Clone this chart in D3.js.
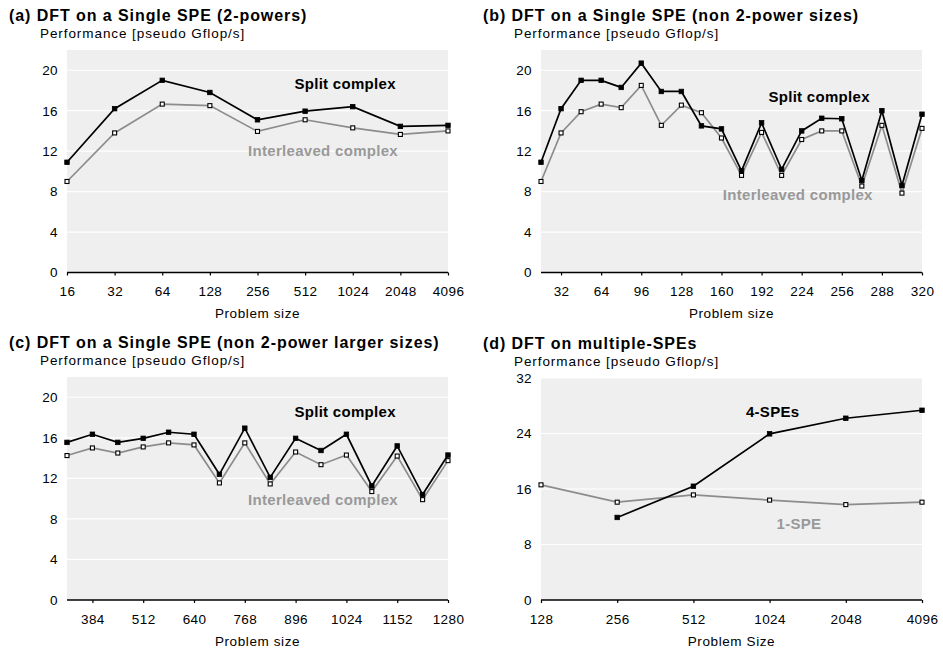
<!DOCTYPE html>
<html>
<head>
<meta charset="utf-8">
<script src="https://cdn.jsdelivr.net/npm/d3@7"></script>
<style>
  body { margin: 0; background: #fff; }
  text { font-family: "Liberation Sans", Arial, sans-serif; }
</style>
</head>
<body>
<div id="chart"></div>
<script>
// (a) powers of two
var sizesA = [16, 32, 64, 128, 256, 512, 1024, 2048, 4096];
var splitA = [10.9, 16.2, 19.0, 17.8, 15.1, 15.95, 16.4, 14.45, 14.55];
var interA = [9.0, 13.8, 16.65, 16.5, 13.95, 15.1, 14.3, 13.65, 14.0];

// (b) non 2-power sizes
var sizesB = [16, 32, 48, 64, 80, 96, 112, 128, 144, 160, 176, 192, 208, 224, 240, 256, 272, 288, 304, 320];
var splitB = [10.9, 16.2, 19.0, 19.0, 18.3, 20.7, 17.9, 17.9, 14.5, 14.2, 10.05, 14.8, 10.2, 14.0, 15.25, 15.2, 9.1, 16.0, 8.6, 15.65];
var interB = [9.0, 13.8, 15.9, 16.65, 16.3, 18.5, 14.55, 16.55, 15.8, 13.3, 9.6, 13.85, 9.6, 13.15, 14.0, 14.0, 8.55, 14.55, 7.85, 14.25];
var ticksB = [32, 64, 96, 128, 160, 192, 224, 256, 288, 320];

// (c) non 2-power larger sizes
var sizesC = [320, 384, 448, 512, 576, 640, 704, 768, 832, 896, 960, 1024, 1088, 1152, 1216, 1280];
var splitC = [15.55, 16.35, 15.55, 15.95, 16.55, 16.35, 12.4, 16.95, 12.1, 15.95, 14.75, 16.35, 11.25, 15.2, 10.4, 14.3];
var interC = [14.25, 15.0, 14.5, 15.1, 15.5, 15.3, 11.55, 15.5, 11.45, 14.6, 13.35, 14.3, 10.7, 14.2, 9.9, 13.75];
var ticksC = [384, 512, 640, 768, 896, 1024, 1152, 1280];

// (d) multiple SPEs
var sizesD = [128, 256, 512, 1024, 2048, 4096];
var fourSPE = [null, 11.9, 16.4, 23.95, 26.2, 27.35];
var oneSPE = [16.6, 14.1, 15.15, 14.4, 13.75, 14.1];

var yTicks = [0, 4, 8, 12, 16, 20];
var yTicksD = [0, 8, 16, 24, 32];

var W = 943, H = 654;
var svg = d3.select("#chart").append("svg")
    .attr("width", W)
    .attr("height", H);

function drawPanel(p) {
    var g = svg.append("g");
    var x = p.x, y = p.y;

    // titles
    g.append("text")
        .attr("x", p.titleX).attr("y", p.top - 29.5)
        .style("font-weight", "bold").style("font-size", "16px")
        .style("letter-spacing", "0.93px")
        .text(p.title);
    g.append("text")
        .attr("x", p.titleX + 31).attr("y", p.top - 12.5)
        .style("font-size", "13.5px").style("letter-spacing", "0.92px")
        .text("Performance [pseudo Gflop/s]");

    // plot background and gridlines
    g.append("rect")
        .attr("x", p.left).attr("y", p.top)
        .attr("width", p.right - p.left).attr("height", p.bottom - p.top)
        .attr("fill", "#efefef");
    g.append("g").selectAll("line").data(p.yTicks.slice(1))
        .enter().append("line")
        .attr("x1", p.left).attr("x2", p.right)
        .attr("y1", function(d) { return y(d); })
        .attr("y2", function(d) { return y(d); })
        .attr("stroke", "#fff").attr("stroke-width", 1.2);

    // y labels
    g.append("g").selectAll("text").data(p.yTicks)
        .enter().append("text")
        .attr("x", p.left - 9)
        .attr("y", function(d) { return y(d); })
        .attr("dy", "0.36em")
        .attr("text-anchor", "end")
        .style("font-size", "13.5px").style("letter-spacing", "0.4px")
        .text(function(d) { return d; });

    // x axis
    var axis = d3.axisBottom(x).tickSize(3).tickPadding(11).tickFormat(d3.format("d"));
    if (p.xTicks) axis.tickValues(p.xTicks);
    var ax = g.append("g")
        .attr("transform", "translate(0," + p.bottom + ")")
        .call(axis);
    ax.select(".domain").attr("stroke-width", 1.6).attr("d", "M" + p.left + ",0H" + p.right);
    ax.selectAll(".tick line").attr("stroke-width", 1.2);
    ax.selectAll(".tick text")
        .style("font-family", "'Liberation Sans', Arial, sans-serif")
        .style("font-size", "13.5px").style("letter-spacing", "0.4px")
        .attr("fill", "#000");
    g.append("text")
        .attr("x", (p.left + p.right) / 2).attr("y", p.bottom + 45.5)
        .attr("text-anchor", "middle")
        .style("font-size", "13.5px").style("letter-spacing", "0.6px")
        .text(p.xLabel);

    // series
    p.series.forEach(function(s) {
        var pts = p.sizes.map(function(k, i) { return { k: k, v: s.values[i] }; })
            .filter(function(d) { return d.v != null; });
        var line = d3.line()
            .x(function(d) { return x(d.k); })
            .y(function(d) { return y(d.v); });
        g.append("path").datum(pts)
            .attr("d", line)
            .attr("fill", "none")
            .attr("stroke", s.color)
            .attr("stroke-width", s.width);
        g.append("g").selectAll("rect").data(pts)
            .enter().append("rect")
            .attr("x", function(d) { return x(d.k) - s.size / 2; })
            .attr("y", function(d) { return y(d.v) - s.size / 2; })
            .attr("width", s.size).attr("height", s.size)
            .attr("fill", s.fill)
            .attr("stroke", "#000")
            .attr("stroke-width", s.stroke);
    });

    // in-plot labels
    p.labels.forEach(function(l) {
        g.append("text")
            .attr("x", p.left + l.fx * (p.right - p.left))
            .attr("y", p.top + l.fy * (p.bottom - p.top))
            .attr("text-anchor", "middle")
            .attr("dy", "0.36em")
            .style("font-weight", "bold").style("font-size", "15px")
            .style("letter-spacing", "0.3px")
            .attr("fill", l.color)
            .text(l.text);
    });
}

var splitStyle = { color: "#000", width: 1.7, fill: "#000", stroke: 0.8, size: 4.5 };
var interStyle = { color: "#8c8c8c", width: 1.7, fill: "#fff", stroke: 1.1, size: 4 };

function makeSeries(style, values) {
    return Object.assign({ values: values }, style);
}

// panel (a)
var aBox = { left: 67, right: 448, top: 50, bottom: 272.5 };
drawPanel(Object.assign({}, aBox, {
    title: "(a) DFT on a Single SPE (2-powers)", titleX: 9,
    x: d3.scalePoint().domain(sizesA).range([aBox.left, aBox.right]),
    y: d3.scaleLinear().domain([0, 22]).range([aBox.bottom, aBox.top]),
    yTicks: yTicks, sizes: sizesA, xLabel: "Problem size",
    series: [makeSeries(interStyle, interA), makeSeries(splitStyle, splitA)],
    labels: [
        { text: "Split complex", fx: 0.73, fy: 0.153, color: "#000" },
        { text: "Interleaved complex", fx: 0.672, fy: 0.45, color: "#999" }
    ]
}));

// panel (b)
var bBox = { left: 541, right: 922, top: 50, bottom: 272.5 };
drawPanel(Object.assign({}, bBox, {
    title: "(b) DFT on a Single SPE (non 2-power sizes)", titleX: 483,
    x: d3.scaleLinear().domain([16, 320]).range([bBox.left, bBox.right]),
    y: d3.scaleLinear().domain([0, 22]).range([bBox.bottom, bBox.top]),
    yTicks: yTicks, sizes: sizesB, xTicks: ticksB, xLabel: "Problem size",
    series: [makeSeries(interStyle, interB), makeSeries(splitStyle, splitB)],
    labels: [
        { text: "Split complex", fx: 0.730, fy: 0.21, color: "#000" },
        { text: "Interleaved complex", fx: 0.674, fy: 0.65, color: "#999" }
    ]
}));

// panel (c)
var cBox = { left: 67, right: 448, top: 377, bottom: 600 };
drawPanel(Object.assign({}, cBox, {
    title: "(c) DFT on a Single SPE (non 2-power larger sizes)", titleX: 9,
    x: d3.scaleLinear().domain([320, 1280]).range([cBox.left, cBox.right]),
    y: d3.scaleLinear().domain([0, 22]).range([cBox.bottom, cBox.top]),
    yTicks: yTicks, sizes: sizesC, xTicks: ticksC, xLabel: "Problem size",
    series: [makeSeries(interStyle, interC), makeSeries(splitStyle, splitC)],
    labels: [
        { text: "Split complex", fx: 0.73, fy: 0.153, color: "#000" },
        { text: "Interleaved complex", fx: 0.672, fy: 0.55, color: "#999" }
    ]
}));

// panel (d)
var dBox = { left: 541, right: 922, top: 378, bottom: 600 };
drawPanel(Object.assign({}, dBox, {
    title: "(d) DFT on multiple-SPEs", titleX: 483,
    x: d3.scalePoint().domain(sizesD).range([dBox.left, dBox.right]),
    y: d3.scaleLinear().domain([0, 32]).range([dBox.bottom, dBox.top]),
    yTicks: yTicksD, sizes: sizesD, xLabel: "Problem Size",
    series: [makeSeries(interStyle, oneSPE), makeSeries(splitStyle, fourSPE)],
    labels: [
        { text: "4-SPEs", fx: 0.608, fy: 0.15, color: "#000" },
        { text: "1-SPE", fx: 0.677, fy: 0.657, color: "#999" }
    ]
}));
</script>
</body>
</html>
